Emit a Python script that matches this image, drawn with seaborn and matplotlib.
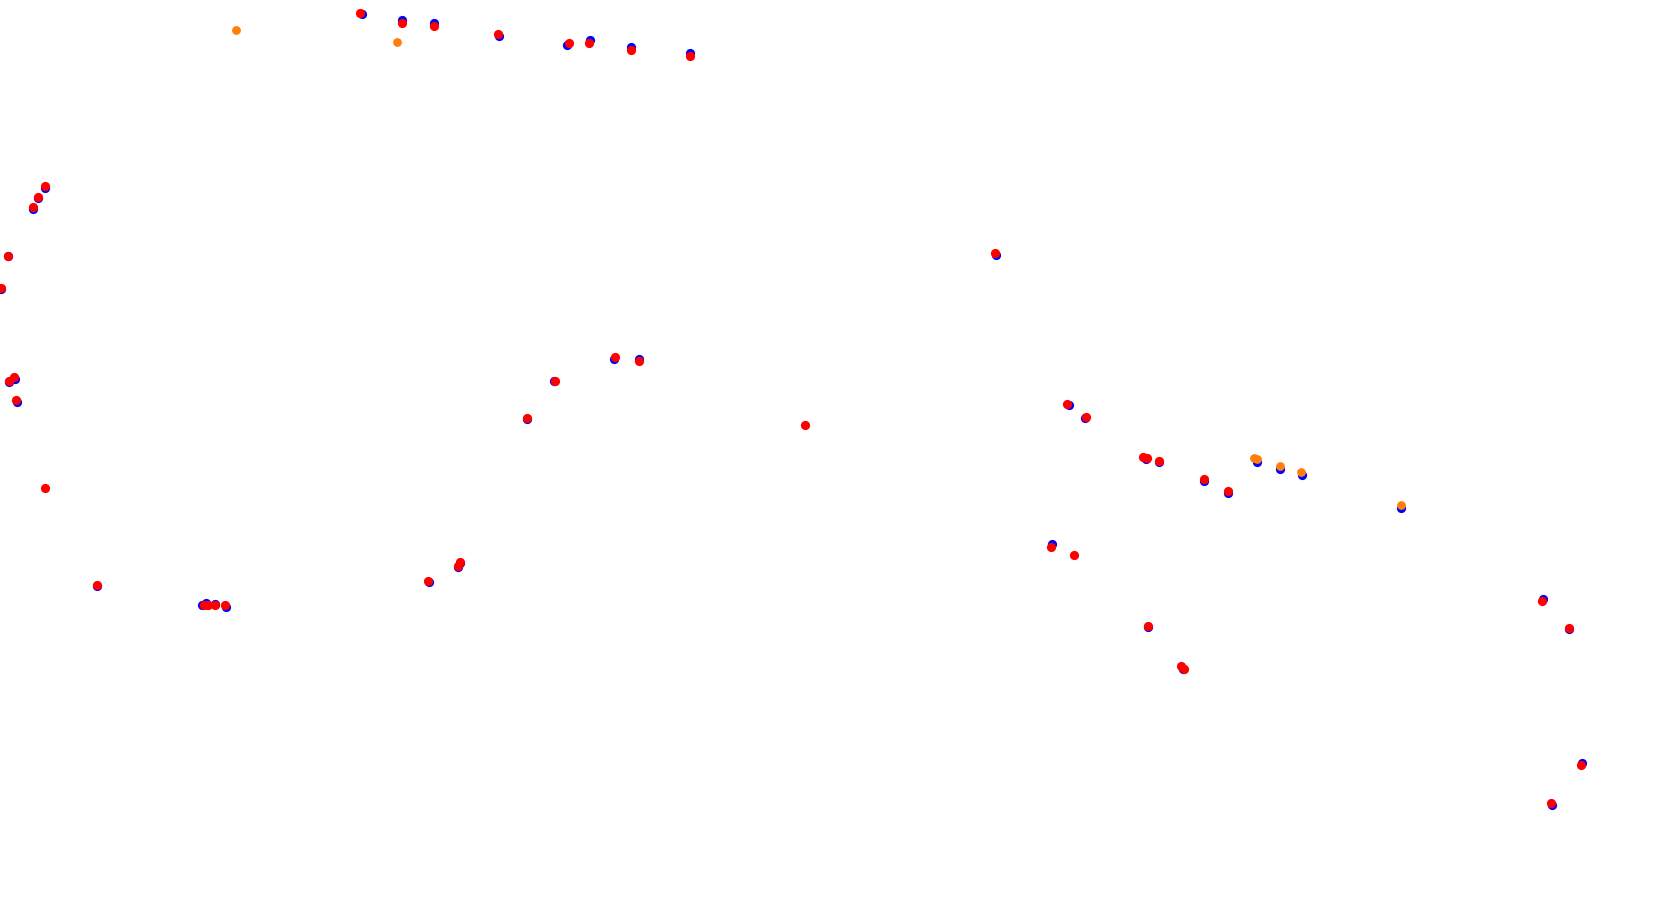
import numpy as np
import pandas as pd
import matplotlib
matplotlib.use('Agg')
import matplotlib.pyplot as plt
import seaborn as sns

# keypoints in image pixel coordinates (x right, y down)
blue_x = [361.7, 402, 433.7, 499, 567, 590, 631, 689.7,
          45.3, 38, 33, 8, 1, 15, 9, 17,
          527, 554, 613.7, 639, 996, 1069, 1085, 1146, 1158.7,
          1204.3, 1228.3, 1052.3, 1148.3, 1183.3,
          1257, 1279.7, 1302, 1400.7,
          96.7, 201.7, 206, 215.3, 226, 429, 459.7, 458,
          1543, 1569, 1582, 1552]
blue_y = [14.3, 20, 23.3, 35.7, 45, 40.3, 47.3, 53.3,
          188, 197.7, 208.7, 255.7, 289, 378.7, 382, 402,
          419.3, 381.3, 359, 359.3, 255.3, 405, 418, 459.3, 462,
          480.7, 493.3, 544, 626.7, 668.7,
          461.7, 468.7, 474.7, 507.7,
          585.7, 605, 603.3, 603.7, 606.7, 582, 562.7, 566.7,
          599, 629, 763.3, 804.7]

red_x = [360, 402, 433.7, 498, 569, 588.7, 631, 689.7,
         45, 37.7, 32.7, 8, 0.7, 9, 13.7, 15.7, 45,
         527, 555, 615, 638.7, 804.7, 994.7, 1067.3, 1086,
         1143.3, 1147.3, 1159, 1203.7, 1228.3, 1051, 1074,
         1148, 1181, 1184.3,
         97.3, 204, 208.3, 215.3, 224.7, 428, 458, 460.3,
         1542, 1569, 1581, 1551]
red_y = [13.3, 23.3, 25.7, 34, 43.3, 42.7, 49.7, 55.7,
         186.3, 196.7, 207.3, 256.3, 288.3, 380.7, 377.3, 399.7, 488,
         418, 380.7, 356.7, 360.7, 425, 253.3, 404, 417.3,
         456.7, 457.7, 460.7, 479, 491.3, 546.7, 554.7,
         626, 666.3, 669.3,
         585, 605, 605, 605, 605.3, 581.3, 566, 562.3,
         600.7, 628, 765.3, 802.7]

orange_x = [235.7, 396.7, 1253.5, 1257.3, 1279.7, 1301, 1400.7]
orange_y = [30, 41.7, 458.3, 459.3, 465.7, 471.7, 504.7]

W, H = 1680, 914

fig = plt.figure(figsize=(W / 100, H / 100), dpi=100)
ax = fig.add_axes([0, 0, 1, 1])

sns.scatterplot(x=blue_x, y=blue_y, color="#0000ff", s=44, linewidth=0, ax=ax)
sns.scatterplot(x=red_x, y=red_y, color="#ff0000", s=44, linewidth=0, ax=ax)
sns.scatterplot(x=orange_x, y=orange_y, color="#ff7f0e", s=40, linewidth=0, ax=ax)

ax.set_xlim(0, W)
ax.set_ylim(H, 0)
ax.axis("off")

fig.savefig("out.png", dpi=100, facecolor="white")
